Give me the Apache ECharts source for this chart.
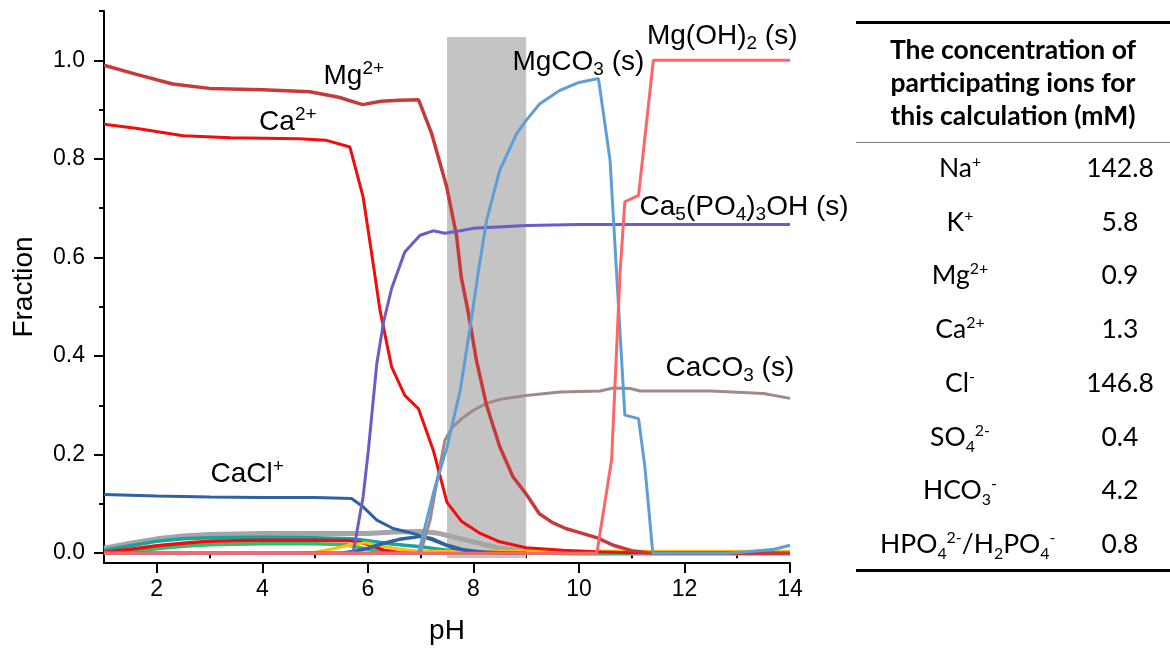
<!DOCTYPE html>
<html>
<head>
<meta charset="utf-8">
<title>Fraction vs pH</title>
<script src="https://cdn.jsdelivr.net/npm/echarts@6.0.0/dist/echarts.min.js"></script>
<style>
html,body{margin:0;padding:0;background:#fff;}
#wrap{position:relative;width:1170px;height:650px;overflow:hidden;}
#chart{position:absolute;left:0;top:0;width:1170px;height:650px;}
#ionTable{position:absolute;left:856px;top:0;width:314px;height:650px;font-family:Lato,"Open Sans",sans-serif;color:#000;}
.rule{position:absolute;left:0;width:314px;}
.head{position:absolute;left:0;width:314px;top:33px;text-align:center;font-weight:bold;font-size:26.5px;line-height:33px;}
.row{position:absolute;left:0;width:314px;height:40px;line-height:40px;font-size:26.5px;}
.ion{position:absolute;left:24px;width:160px;text-align:center;white-space:nowrap;}
.conc{position:absolute;left:204px;width:120px;text-align:center;}
sup,sub{font-size:0.6em;line-height:0;}
</style>
</head>
<body>
<div id="wrap">
	<div id="chart"></div>
	<div id="ionTable"></div>
</div>
<script>
// species fractions, [pH, fraction]
var mg2 = [[1,0.99],[1.6,0.972],[2.3,0.952],[3,0.943],[4,0.94],[4.9,0.936],[5.45,0.925],[5.9,0.91],[6.25,0.917],[6.6,0.919],[6.96,0.92],[7.21,0.851],[7.49,0.745],[7.68,0.645],[7.77,0.56],[7.9,0.49],[8.06,0.39],[8.25,0.3],[8.5,0.216],[8.75,0.155],[9,0.12],[9.25,0.08],[9.5,0.062],[9.75,0.05],[10,0.042],[10.35,0.031],[10.65,0.016],[11,0.005],[11.3,0.001],[14,0]];
var ca2 = [[1,0.87],[1.6,0.862],[2.5,0.847],[3.4,0.843],[4.7,0.841],[5.2,0.838],[5.66,0.824],[5.91,0.723],[6.1,0.588],[6.23,0.493],[6.45,0.378],[6.7,0.32],[6.96,0.293],[7.24,0.209],[7.5,0.103],[7.78,0.064],[8.13,0.04],[8.5,0.023],[9,0.011],[9.7,0.006],[10.3,0.003],[11,0.001],[14,0]];
var hap = [[1,0],[5.72,0],[5.91,0.114],[6.01,0.209],[6.17,0.385],[6.3,0.47],[6.45,0.537],[6.7,0.611],[6.99,0.645],[7.24,0.654],[7.46,0.649],[7.75,0.654],[8,0.659],[9,0.665],[10,0.667],[14,0.667]];
var mgco3 = [[1,0],[6.96,0],[7.25,0.125],[7.5,0.215],[7.75,0.33],[7.94,0.46],[8.1,0.575],[8.25,0.675],[8.5,0.777],[8.82,0.851],[9,0.878],[9.26,0.912],[9.64,0.939],[10,0.955],[10.37,0.963],[10.59,0.797],[10.87,0.28],[11.13,0.273],[11.25,0.175],[11.4,0],[12.8,0],[13.2,0.003],[13.7,0.008],[14,0.016]];
var mgoh2 = [[1,0],[10.34,0],[10.62,0.19],[10.78,0.57],[10.87,0.713],[11.13,0.726],[11.41,1],[14,1]];
var caco3 = [[1,0],[7.0,0],[7.18,0.067],[7.3,0.14],[7.46,0.229],[7.6,0.255],[7.78,0.273],[8,0.29],[8.25,0.304],[8.5,0.312],[9,0.32],[9.64,0.327],[10.4,0.329],[10.65,0.335],[10.97,0.334],[11.16,0.329],[12.5,0.329],[13.5,0.324],[14,0.314]];
var cacl = [[1,0.119],[2,0.116],[3,0.114],[4,0.113],[5,0.113],[5.69,0.111],[5.91,0.094],[6.17,0.067],[6.48,0.05],[6.86,0.04],[7.24,0.026],[7.62,0.01],[8,0.003],[9,0]];
var grey = [[1,0.01],[1.5,0.02],[2,0.029],[2.5,0.035],[3,0.038],[4,0.04],[5,0.04],[6,0.04],[6.5,0.043],[7,0.044],[7.3,0.041],[7.5,0.036],[8,0.023],[8.5,0.01],[9,0.004],[9.5,0.001],[10,0],[14,0]];
var teal = [[1,0.006],[1.5,0.015],[2,0.024],[2.5,0.029],[3,0.031],[4,0.032],[5,0.031],[5.7,0.029],[6,0.025],[6.5,0.018],[7,0.013],[7.5,0.006],[8,0.002],[8.5,0]];
var green = [[1,0],[1.5,0.004],[2,0.009],[2.5,0.014],[3,0.017],[4,0.019],[5,0.019],[5.6,0.017],[6,0.008],[6.3,0.002],[6.6,0],[11,0]];
var redLow = [[1,0.002],[1.5,0.008],[2,0.015],[2.5,0.02],[3,0.024],[4,0.026],[5,0.026],[5.7,0.025],[6,0.018],[6.3,0.006],[6.6,0.001],[7,0]];
var yellow = [[1,0],[4.5,0],[5,0.002],[5.3,0.008],[5.6,0.015],[5.95,0.021],[6.3,0.014],[6.6,0.008],[7,0.004],[8,0.004],[14,0.004]];
var navy2 = [[1,0],[5.5,0],[5.8,0.005],[6,0.01],[6.3,0.02],[6.6,0.028],[7,0.034],[7.2,0.03],[7.5,0.016],[7.8,0.007],[8.2,0.002],[8.6,0],[9,0]];

// shaded pH window
var bandPH = [7.5, 9.0];
var bandFrac = [-0.01, 1.047];

// axis ticks
var phMajor = [2, 4, 6, 8, 10, 12, 14];
var phMinor = [1, 3, 5, 7, 9, 11, 13];
var fracMajor = [0, 0.2, 0.4, 0.6, 0.8, 1.0];
var fracMinor = [0.1, 0.3, 0.5, 0.7, 0.9, 1.1];

// curve labels: text and where they sit [pH, fraction]
var labelText = {
	mg2: '{n|Mg}{sup|2+}',
	ca2: '{n|Ca}{sup|2+}',
	mgco3: '{n|MgCO}{sub|3}{n| (s)}',
	mgoh2: '{n|Mg(OH)}{sub|2}{n| (s)}',
	hap: '{n|Ca}{sub|5}{n|(PO}{sub|4}{n|)}{sub|3}{n|OH (s)}',
	caco3: '{n|CaCO}{sub|3}{n| (s)}',
	cacl: '{n|CaCl}{sup|+}'
};
var labelAt = {
	mg2: [5.15, 0.968],
	ca2: [3.93, 0.875],
	mgco3: [8.73, 0.996],
	mgoh2: [11.28, 1.049],
	hap: [11.14, 0.702],
	caco3: [11.63, 0.376],
	cacl: [3.01, 0.160]
};

// table
var tableHead = ['The concentration of', 'participating ions for', 'this calculation (mM)'];
var ions = ['Na<sup>+</sup>', 'K<sup>+</sup>', 'Mg<sup>2+</sup>', 'Ca<sup>2+</sup>', 'Cl<sup>-</sup>', 'SO<sub>4</sub><sup>2-</sup>', 'HCO<sub>3</sub><sup>-</sup>', 'HPO<sub>4</sub><sup>2-</sup>/H<sub>2</sub>PO<sub>4</sub><sup>-</sup>'];
var conc = ['142.8', '5.8', '0.9', '1.3', '146.8', '0.4', '4.2', '0.8'];

(function(){
	"use strict";

	var FONT = '"Liberation Sans", Arial, sans-serif';
	var RICH = {
		n: {fontSize: 28, fontFamily: FONT, color: '#000', lineHeight: 34},
		sup: {fontSize: 19, fontFamily: FONT, color: '#000', lineHeight: 20, verticalAlign: 'top'},
		sub: {fontSize: 19, fontFamily: FONT, color: '#000', lineHeight: 12, verticalAlign: 'bottom'}
	};

	var line = function(key, data, color, width){
		var s = {
			type: 'line',
			data: data,
			showSymbol: false,
			symbol: 'none',
			silent: true,
			lineStyle: {color: color, width: width},
			itemStyle: {color: color}
		};
		if(labelText[key]){
			s.markPoint = {
				silent: true,
				symbol: 'circle',
				symbolSize: 1,
				itemStyle: {color: 'rgba(0,0,0,0)'},
				label: {show: true, position: 'right', distance: 0, formatter: labelText[key], rich: RICH},
				data: [{coord: labelAt[key]}]
			};
		}
		return s;
	};

	var axisCommon = function(){
		return {
			axisLine: {show: true, onZero: false, lineStyle: {color: '#000', width: 2}},
			splitLine: {show: false}
		};
	};

	var drawChart = function(){
		var chart = echarts.init(document.getElementById('chart'));
		var x0 = axisCommon(), y0 = axisCommon();
		var option = {
			animation: false,
			backgroundColor: '#fff',
			grid: {left: 104, right: 380, top: 11, bottom: 87, containLabel: false},
			xAxis: [
				Object.assign(x0, {
					type: 'value', min: 1, max: 14, position: 'bottom',
					name: 'pH', nameLocation: 'middle', nameGap: 54,
					nameTextStyle: {fontSize: 28, fontFamily: FONT, color: '#000'},
					axisTick: {show: true, customValues: phMajor, length: 10, lineStyle: {color: '#000', width: 2}},
					axisLabel: {customValues: phMajor, fontSize: 23, fontFamily: FONT, color: '#000', margin: 15}
				}),
				{
					type: 'value', min: 1, max: 14, position: 'bottom', offset: 0,
					axisLine: {show: false},
					axisTick: {show: true, customValues: phMinor, length: 5, lineStyle: {color: '#000', width: 2}},
					axisLabel: {show: false},
					splitLine: {show: false}
				}
			],
			yAxis: [
				Object.assign(y0, {
					type: 'value', min: -0.02, max: 1.1, position: 'left',
					name: 'Fraction', nameLocation: 'middle', nameGap: 66, nameRotate: 90,
					nameTextStyle: {fontSize: 28, fontFamily: FONT, color: '#000'},
					axisTick: {show: true, customValues: fracMajor, length: 10, lineStyle: {color: '#000', width: 2}},
					axisLabel: {customValues: fracMajor, fontSize: 23, fontFamily: FONT, color: '#000', margin: 19,
						formatter: function(v){ return v.toFixed(1); }}
				}),
				{
					type: 'value', min: -0.02, max: 1.1, position: 'left', offset: 0,
					axisLine: {show: false},
					axisTick: {show: true, customValues: fracMinor, length: 5, lineStyle: {color: '#000', width: 2}},
					axisLabel: {show: false},
					splitLine: {show: false}
				}
			],
			series: [
				{
					type: 'line', data: [[bandPH[0], bandFrac[0]]], symbol: 'none', silent: true, z: 1,
					lineStyle: {width: 0},
					markArea: {
						silent: true,
						itemStyle: {color: '#C4C4C4'},
						data: [[{coord: [bandPH[0], bandFrac[0]]}, {coord: [bandPH[1], bandFrac[1]]}]]
					}
				},
				line('grey', grey, '#A5A5A5', 5),
				line('teal', teal, '#17A39F', 3.5),
				line('green', green, '#30BD6E', 3.5),
				line('redLow', redLow, '#F20D0D', 3.5),
				line('yellow', yellow, '#FFC000', 3),
				line('navy2', navy2, '#2E62A3', 3.5),
				line('cacl', cacl, '#2E62A3', 3),
				line('caco3', caco3, '#A08B84', 3),
				line('ca2', ca2, '#F20D0D', 3),
				line('mg2', mg2, '#C63A3A', 3.5),
				line('hap', hap, '#6A5DC6', 3),
				line('mgco3', mgco3, '#5E9ED6', 3),
				line('mgoh2', mgoh2, '#FF6468', 3)
			]
		};
		chart.setOption(option);
	};

	var drawTable = function(){
		var box = document.getElementById('ionTable');
		var html = '';
		html += '<div class="rule" style="top:21px;border-top:3px solid #000;"></div>';
		html += '<div class="head">' + tableHead.join('<br>') + '</div>';
		html += '<div class="rule" style="top:142px;border-top:1.5px solid #808080;"></div>';
		for(var i = 0; i < ions.length; i++){
			var cy = 167 + i * 53.7;
			html += '<div class="row" style="top:' + (cy - 20) + 'px;"><span class="ion">' + ions[i] + '</span><span class="conc">' + conc[i] + '</span></div>';
		}
		html += '<div class="rule" style="top:569px;border-top:3px solid #000;"></div>';
		box.innerHTML = html;
	};

	drawChart();
	drawTable();
})();
</script>
</body>
</html>
